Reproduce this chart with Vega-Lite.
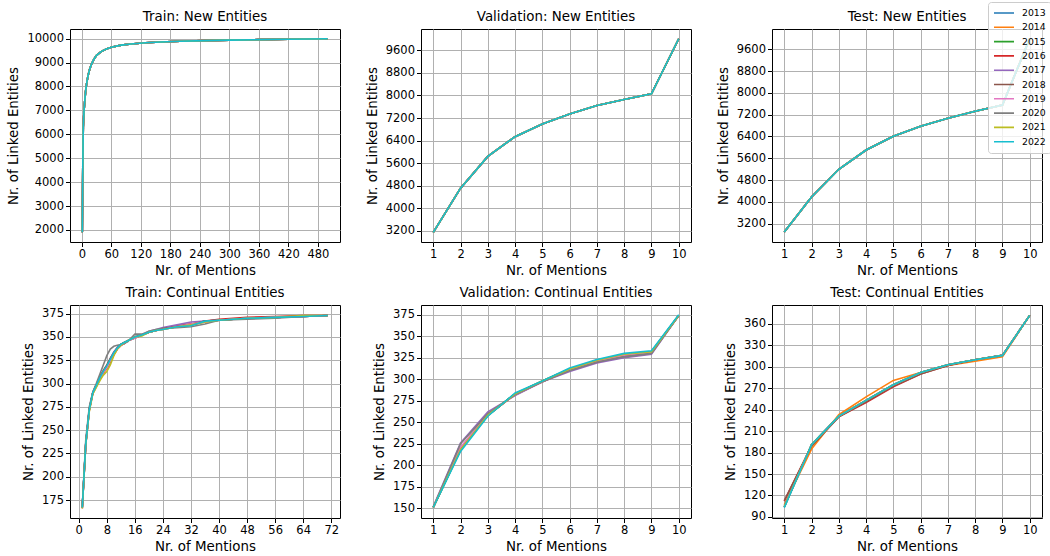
{
  "$schema": "https://vega.github.io/schema/vega-lite/v6.json",
  "padding": {"left": 6, "top": 1, "right": 0, "bottom": 4},
  "bounds": "flush",
  "columns": 3,
  "spacing": {"row": 63, "column": 81},
  "datasets": {
    "tn": [
      {"x":1,"2013":1900,"2014":1900,"2015":1900,"2016":1900,"2017":1900,"2018":1900,"2019":1900,"2020":1900,"2021":1900,"2022":1900},
      {"x":2,"2013":4600,"2014":4600,"2015":4600,"2016":4600,"2017":4600,"2018":4600,"2019":4600,"2020":4600,"2021":4600,"2022":4600},
      {"x":3,"2013":6300,"2014":6300,"2015":6300,"2016":6300,"2017":6300,"2018":6300,"2019":6300,"2020":6300,"2021":6300,"2022":6300},
      {"x":4,"2013":6800,"2014":6800,"2015":6800,"2016":6800,"2017":6800,"2018":6800,"2019":6800,"2020":6800,"2021":6800,"2022":6800},
      {"x":5,"2013":7100,"2014":7100,"2015":7100,"2016":7100,"2017":7100,"2018":7100,"2019":7100,"2020":7100,"2021":7100,"2022":7100},
      {"x":6,"2013":7400,"2014":7400,"2015":7400,"2016":7400,"2017":7400,"2018":7400,"2019":7400,"2020":7400,"2021":7400,"2022":7400},
      {"x":8,"2013":7850,"2014":7850,"2015":7850,"2016":7850,"2017":7850,"2018":7850,"2019":7850,"2020":7850,"2021":7850,"2022":7850},
      {"x":10,"2013":8150,"2014":8150,"2015":8150,"2016":8150,"2017":8150,"2018":8150,"2019":8150,"2020":8150,"2021":8150,"2022":8150},
      {"x":13,"2013":8480,"2014":8480,"2015":8480,"2016":8480,"2017":8480,"2018":8480,"2019":8480,"2020":8480,"2021":8480,"2022":8480},
      {"x":16,"2013":8720,"2014":8720,"2015":8720,"2016":8720,"2017":8720,"2018":8720,"2019":8720,"2020":8720,"2021":8720,"2022":8720},
      {"x":20,"2013":8950,"2014":8950,"2015":8950,"2016":8950,"2017":8950,"2018":8950,"2019":8950,"2020":8950,"2021":8950,"2022":8950},
      {"x":25,"2013":9150,"2014":9150,"2015":9150,"2016":9150,"2017":9150,"2018":9150,"2019":9150,"2020":9150,"2021":9150,"2022":9150},
      {"x":30,"2013":9300,"2014":9300,"2015":9300,"2016":9300,"2017":9300,"2018":9300,"2019":9300,"2020":9300,"2021":9300,"2022":9300},
      {"x":40,"2013":9470,"2014":9470,"2015":9470,"2016":9470,"2017":9470,"2018":9470,"2019":9470,"2020":9470,"2021":9470,"2022":9470},
      {"x":50,"2013":9570,"2014":9570,"2015":9570,"2016":9570,"2017":9570,"2018":9570,"2019":9570,"2020":9570,"2021":9570,"2022":9570},
      {"x":60,"2013":9640,"2014":9640,"2015":9640,"2016":9640,"2017":9640,"2018":9640,"2019":9640,"2020":9640,"2021":9640,"2022":9640},
      {"x":80,"2013":9730,"2014":9730,"2015":9730,"2016":9730,"2017":9730,"2018":9730,"2019":9730,"2020":9730,"2021":9730,"2022":9730},
      {"x":100,"2013":9780,"2014":9780,"2015":9780,"2016":9780,"2017":9780,"2018":9780,"2019":9780,"2020":9780,"2021":9780,"2022":9780},
      {"x":130,"2013":9830,"2014":9830,"2015":9830,"2016":9830,"2017":9830,"2018":9830,"2019":9830,"2020":9830,"2021":9830,"2022":9830},
      {"x":160,"2013":9860,"2014":9860,"2015":9860,"2016":9860,"2017":9860,"2018":9860,"2019":9860,"2020":9860,"2021":9860,"2022":9860},
      {"x":200,"2013":9895,"2014":9895,"2015":9895,"2016":9895,"2017":9895,"2018":9895,"2019":9895,"2020":9895,"2021":9895,"2022":9895},
      {"x":250,"2013":9920,"2014":9920,"2015":9920,"2016":9920,"2017":9920,"2018":9920,"2019":9920,"2020":9920,"2021":9920,"2022":9920},
      {"x":300,"2013":9940,"2014":9940,"2015":9940,"2016":9940,"2017":9940,"2018":9940,"2019":9940,"2020":9940,"2021":9940,"2022":9940},
      {"x":360,"2013":9960,"2014":9960,"2015":9960,"2016":9960,"2017":9960,"2018":9960,"2019":9960,"2020":9960,"2021":9960,"2022":9960},
      {"x":420,"2013":9975,"2014":9975,"2015":9975,"2016":9975,"2017":9975,"2018":9975,"2019":9975,"2020":9975,"2021":9975,"2022":9975},
      {"x":500,"2013":10000,"2014":10000,"2015":10000,"2016":10000,"2017":10000,"2018":10000,"2019":10000,"2020":10000,"2021":10000,"2022":10000}
    ],
    "vn": [
      {"x":1,"2013":3150,"2014":3150,"2015":3150,"2016":3150,"2017":3150,"2018":3150,"2019":3150,"2020":3150,"2021":3150,"2022":3150},
      {"x":2,"2013":4715,"2014":4715,"2015":4715,"2016":4715,"2017":4715,"2018":4715,"2019":4715,"2020":4715,"2021":4715,"2022":4715},
      {"x":3,"2013":5840,"2014":5840,"2015":5840,"2016":5840,"2017":5840,"2018":5840,"2019":5840,"2020":5840,"2021":5840,"2022":5840},
      {"x":4,"2013":6540,"2014":6540,"2015":6540,"2016":6540,"2017":6540,"2018":6540,"2019":6540,"2020":6540,"2021":6540,"2022":6540},
      {"x":5,"2013":6990,"2014":6990,"2015":6990,"2016":6990,"2017":6990,"2018":6990,"2019":6990,"2020":6990,"2021":6990,"2022":6990},
      {"x":6,"2013":7345,"2014":7345,"2015":7345,"2016":7345,"2017":7345,"2018":7345,"2019":7345,"2020":7345,"2021":7345,"2022":7345},
      {"x":7,"2013":7645,"2014":7645,"2015":7645,"2016":7645,"2017":7645,"2018":7645,"2019":7645,"2020":7645,"2021":7645,"2022":7645},
      {"x":8,"2013":7860,"2014":7860,"2015":7860,"2016":7860,"2017":7860,"2018":7860,"2019":7860,"2020":7860,"2021":7860,"2022":7860},
      {"x":9,"2013":8055,"2014":8055,"2015":8055,"2016":8055,"2017":8055,"2018":8055,"2019":8055,"2020":8055,"2021":8055,"2022":8055},
      {"x":10,"2013":10010,"2014":10010,"2015":10010,"2016":10010,"2017":10010,"2018":10010,"2019":10010,"2020":10010,"2021":10010,"2022":10010}
    ],
    "ten": [
      {"x":1,"2013":2895,"2014":2895,"2015":2895,"2016":2895,"2017":2895,"2018":2895,"2019":2895,"2020":2895,"2021":2895,"2022":2895},
      {"x":2,"2013":4180,"2014":4180,"2015":4180,"2016":4180,"2017":4180,"2018":4180,"2019":4180,"2020":4180,"2021":4180,"2022":4180},
      {"x":3,"2013":5196,"2014":5196,"2015":5196,"2016":5196,"2017":5196,"2018":5196,"2019":5196,"2020":5196,"2021":5196,"2022":5196},
      {"x":4,"2013":5905,"2014":5905,"2015":5905,"2016":5905,"2017":5905,"2018":5905,"2019":5905,"2020":5905,"2021":5905,"2022":5905},
      {"x":5,"2013":6407,"2014":6407,"2015":6407,"2016":6407,"2017":6407,"2018":6407,"2019":6407,"2020":6407,"2021":6407,"2022":6407},
      {"x":6,"2013":6774,"2014":6774,"2015":6774,"2016":6774,"2017":6774,"2018":6774,"2019":6774,"2020":6774,"2021":6774,"2022":6774},
      {"x":7,"2013":7068,"2014":7068,"2015":7068,"2016":7068,"2017":7068,"2018":7068,"2019":7068,"2020":7068,"2021":7068,"2022":7068},
      {"x":8,"2013":7324,"2014":7324,"2015":7324,"2016":7324,"2017":7324,"2018":7324,"2019":7324,"2020":7324,"2021":7324,"2022":7324},
      {"x":9,"2013":7556,"2014":7556,"2015":7556,"2016":7556,"2017":7556,"2018":7556,"2019":7556,"2020":7556,"2021":7556,"2022":7556},
      {"x":10,"2013":9990,"2014":9990,"2015":9990,"2016":9990,"2017":9990,"2018":9990,"2019":9990,"2020":9990,"2021":9990,"2022":9990}
    ],
    "tc": [
      {"x":1,"2013":167,"2014":166,"2015":167,"2016":167,"2017":168,"2018":167,"2019":166,"2020":167,"2021":166,"2022":167},
      {"x":2,"2013":236,"2014":234,"2015":235,"2016":235,"2017":236,"2018":236,"2019":235,"2020":240,"2021":235,"2022":235},
      {"x":3,"2013":272,"2014":271,"2015":272,"2016":272,"2017":272,"2018":273,"2019":271,"2020":275,"2021":270,"2022":272},
      {"x":4,"2013":290,"2014":289,"2015":290,"2016":290,"2017":290,"2018":290,"2019":290,"2020":291,"2021":289,"2022":290},
      {"x":5,"2013":298,"2014":297,"2015":298,"2016":298,"2017":297,"2018":299,"2019":297,"2020":300,"2021":296,"2022":298},
      {"x":6,"2013":306,"2014":305,"2015":307,"2016":306,"2017":305,"2018":307,"2019":305,"2020":310,"2021":303,"2022":306},
      {"x":7,"2013":313,"2014":311,"2015":313,"2016":312,"2017":312,"2018":314,"2019":312,"2020":320,"2021":309,"2022":313},
      {"x":8,"2013":319,"2014":316,"2015":319,"2016":317,"2017":318,"2018":320,"2019":317,"2020":330,"2021":313,"2022":319},
      {"x":9,"2013":326,"2014":323,"2015":326,"2016":323,"2017":327,"2018":327,"2019":324,"2020":337,"2021":320,"2022":326},
      {"x":10,"2013":333,"2014":331,"2015":333,"2016":331,"2017":334,"2018":333,"2019":332,"2020":340,"2021":330,"2022":333},
      {"x":11,"2013":338,"2014":337,"2015":338,"2016":337,"2017":339,"2018":338,"2019":337,"2020":341,"2021":337,"2022":338},
      {"x":12,"2013":342,"2014":341,"2015":342,"2016":341,"2017":342,"2018":342,"2019":341,"2020":342,"2021":341,"2022":342},
      {"x":13,"2013":344,"2014":343,"2015":344,"2016":343,"2017":344,"2018":344,"2019":343,"2020":343,"2021":344,"2022":344},
      {"x":14,"2013":346,"2014":346,"2015":346,"2016":346,"2017":346,"2018":346,"2019":346,"2020":345,"2021":346,"2022":346},
      {"x":16,"2013":350,"2014":349,"2015":350,"2016":349,"2017":349,"2018":350,"2019":349,"2020":353,"2021":350,"2022":350},
      {"x":18,"2013":352,"2014":352,"2015":352,"2016":352,"2017":352,"2018":352,"2019":352,"2020":353,"2021":351,"2022":352},
      {"x":20,"2013":355,"2014":355,"2015":355,"2016":355,"2017":356,"2018":355,"2019":355,"2020":356,"2021":355,"2022":355},
      {"x":22,"2013":357,"2014":357,"2015":357,"2016":357,"2017":358,"2018":357,"2019":357,"2020":358,"2021":357,"2022":357},
      {"x":24,"2013":359,"2014":358,"2015":359,"2016":359,"2017":360,"2018":359,"2019":358,"2020":359,"2021":358,"2022":358},
      {"x":28,"2013":361,"2014":361,"2015":361,"2016":362,"2017":363,"2018":361,"2019":361,"2020":360,"2021":361,"2022":361},
      {"x":32,"2013":363,"2014":363,"2015":363,"2016":364,"2017":366,"2018":363,"2019":364,"2020":361,"2021":363,"2022":362},
      {"x":36,"2013":367,"2014":366,"2015":367,"2016":367,"2017":367,"2018":367,"2019":366,"2020":364,"2021":366,"2022":367},
      {"x":40,"2013":368,"2014":368,"2015":368,"2016":369,"2017":368,"2018":368,"2019":368,"2020":368,"2021":368,"2022":368},
      {"x":48,"2013":370,"2014":370,"2015":370,"2016":371,"2017":370,"2018":370,"2019":370,"2020":369,"2021":370,"2022":370},
      {"x":56,"2013":371,"2014":371,"2015":371,"2016":372,"2017":371,"2018":371,"2019":371,"2020":370,"2021":371,"2022":371},
      {"x":64,"2013":372,"2014":372,"2015":372,"2016":373,"2017":372,"2018":372,"2019":372,"2020":372,"2021":373,"2022":372},
      {"x":71,"2013":373,"2014":373,"2015":373,"2016":373,"2017":373,"2018":373,"2019":373,"2020":373,"2021":373,"2022":373}
    ],
    "vc": [
      {"x":1,"2013":151,"2014":151,"2015":151,"2016":151,"2017":152,"2018":151,"2019":151,"2020":151,"2021":151,"2022":151},
      {"x":2,"2013":218,"2014":219,"2015":218,"2016":220,"2017":226,"2018":220,"2019":221,"2020":225,"2021":218,"2022":216},
      {"x":3,"2013":258,"2014":258,"2015":258,"2016":259,"2017":262,"2018":258,"2019":259,"2020":260,"2021":258,"2022":257},
      {"x":4,"2013":283,"2014":283,"2015":283,"2016":282,"2017":281,"2018":283,"2019":282,"2020":282,"2021":283,"2022":284},
      {"x":5,"2013":298,"2014":298,"2015":298,"2016":297,"2017":297,"2018":297,"2019":297,"2020":297,"2021":298,"2022":298},
      {"x":6,"2013":312,"2014":312,"2015":312,"2016":311,"2017":309,"2018":311,"2019":311,"2020":310,"2021":312,"2022":313},
      {"x":7,"2013":322,"2014":322,"2015":322,"2016":321,"2017":319,"2018":320,"2019":321,"2020":320,"2021":322,"2022":323},
      {"x":8,"2013":329,"2014":329,"2015":329,"2016":328,"2017":325,"2018":327,"2019":328,"2020":326,"2021":329,"2022":330},
      {"x":9,"2013":332,"2014":332,"2015":332,"2016":331,"2017":329,"2018":331,"2019":331,"2020":330,"2021":332,"2022":333},
      {"x":10,"2013":374,"2014":374,"2015":374,"2016":374,"2017":374,"2018":374,"2019":374,"2020":374,"2021":374,"2022":375}
    ],
    "tec": [
      {"x":1,"2013":104,"2014":107,"2015":104,"2016":112,"2017":104,"2018":113,"2019":104,"2020":104,"2021":104,"2022":103},
      {"x":2,"2013":191,"2014":185,"2015":191,"2016":190,"2017":191,"2018":189,"2019":191,"2020":191,"2021":191,"2022":191},
      {"x":3,"2013":231,"2014":233,"2015":231,"2016":230,"2017":231,"2018":230,"2019":231,"2020":231,"2021":231,"2022":231},
      {"x":4,"2013":253,"2014":258,"2015":253,"2016":250,"2017":253,"2018":251,"2019":253,"2020":253,"2021":253,"2022":253},
      {"x":5,"2013":275,"2014":281,"2015":275,"2016":272,"2017":275,"2018":273,"2019":275,"2020":275,"2021":275,"2022":275},
      {"x":6,"2013":292,"2014":292,"2015":292,"2016":290,"2017":292,"2018":290,"2019":292,"2020":292,"2021":292,"2022":292},
      {"x":7,"2013":303,"2014":302,"2015":303,"2016":302,"2017":303,"2018":302,"2019":303,"2020":303,"2021":303,"2022":303},
      {"x":8,"2013":310,"2014":308,"2015":310,"2016":310,"2017":310,"2018":310,"2019":310,"2020":310,"2021":310,"2022":310},
      {"x":9,"2013":316,"2014":314,"2015":316,"2016":316,"2017":316,"2018":316,"2019":316,"2020":316,"2021":316,"2022":316},
      {"x":10,"2013":372,"2014":372,"2015":372,"2016":372,"2017":372,"2018":372,"2019":372,"2020":372,"2021":372,"2022":372}
    ]
  },
  "concat": [
    {
      "title": "Train: New Entities",
      "width": 270, "height": 213,
      "data": {"name": "tn"},
      "transform": [{"fold": ["2013","2014","2015","2016","2017","2018","2019","2020","2021","2022"], "as": ["year","value"]}],
      "mark": {"type": "line", "strokeWidth": 1.6},
      "encoding": {
        "x": {"field": "x", "type": "quantitative", "scale": {"domain": [-24, 525], "nice": false, "zero": false}, "axis": {"values": [0,60,120,180,240,300,360,420,480], "title": "Nr. of Mentions"}},
        "y": {"field": "value", "type": "quantitative", "scale": {"domain": [1495, 10405], "nice": false, "zero": false}, "axis": {"values": [2000,3000,4000,5000,6000,7000,8000,9000,10000], "format": "d", "title": "Nr. of Linked Entities"}},
        "color": {"field": "year", "type": "nominal", "scale": {"domain": ["2013","2014","2015","2016","2017","2018","2019","2020","2021","2022"], "range": ["#1f77b4","#ff7f0e","#2ca02c","#d62728","#9467bd","#8c564b","#e377c2","#7f7f7f","#bcbd22","#17becf"]}, "legend": {"title": null, "orient": "none", "legendX": 918, "legendY": -27}}
      }
    },
    {
      "title": "Validation: New Entities",
      "width": 270, "height": 213,
      "data": {"name": "vn"},
      "transform": [{"fold": ["2013","2014","2015","2016","2017","2018","2019","2020","2021","2022"], "as": ["year","value"]}],
      "mark": {"type": "line", "strokeWidth": 1.6},
      "encoding": {
        "x": {"field": "x", "type": "quantitative", "scale": {"domain": [0.55, 10.45], "nice": false, "zero": false}, "axis": {"values": [1,2,3,4,5,6,7,8,9,10], "title": "Nr. of Mentions"}},
        "y": {"field": "value", "type": "quantitative", "scale": {"domain": [2807, 10355], "nice": false, "zero": false}, "axis": {"values": [3200,4000,4800,5600,6400,7200,8000,8800,9600], "format": "d", "title": "Nr. of Linked Entities"}},
        "color": {"field": "year", "type": "nominal", "scale": {"domain": ["2013","2014","2015","2016","2017","2018","2019","2020","2021","2022"], "range": ["#1f77b4","#ff7f0e","#2ca02c","#d62728","#9467bd","#8c564b","#e377c2","#7f7f7f","#bcbd22","#17becf"]}, "legend": {"title": null, "orient": "none", "legendX": 918, "legendY": -27}}
      }
    },
    {
      "title": "Test: New Entities",
      "width": 270, "height": 213,
      "data": {"name": "ten"},
      "transform": [{"fold": ["2013","2014","2015","2016","2017","2018","2019","2020","2021","2022"], "as": ["year","value"]}],
      "mark": {"type": "line", "strokeWidth": 1.6},
      "encoding": {
        "x": {"field": "x", "type": "quantitative", "scale": {"domain": [0.55, 10.45], "nice": false, "zero": false}, "axis": {"values": [1,2,3,4,5,6,7,8,9,10], "title": "Nr. of Mentions"}},
        "y": {"field": "value", "type": "quantitative", "scale": {"domain": [2528, 10345], "nice": false, "zero": false}, "axis": {"values": [3200,4000,4800,5600,6400,7200,8000,8800,9600], "format": "d", "title": "Nr. of Linked Entities"}},
        "color": {"field": "year", "type": "nominal", "scale": {"domain": ["2013","2014","2015","2016","2017","2018","2019","2020","2021","2022"], "range": ["#1f77b4","#ff7f0e","#2ca02c","#d62728","#9467bd","#8c564b","#e377c2","#7f7f7f","#bcbd22","#17becf"]}, "legend": {"title": null, "orient": "none", "legendX": 918, "legendY": -27}}
      }
    },
    {
      "title": "Train: Continual Entities",
      "width": 270, "height": 213,
      "data": {"name": "tc"},
      "transform": [{"fold": ["2013","2014","2015","2016","2017","2018","2019","2020","2021","2022"], "as": ["year","value"]}],
      "mark": {"type": "line", "strokeWidth": 1.6},
      "encoding": {
        "x": {"field": "x", "type": "quantitative", "scale": {"domain": [-2.5, 74.5], "nice": false, "zero": false}, "axis": {"values": [0,8,16,24,32,40,48,56,64,72], "title": "Nr. of Mentions"}},
        "y": {"field": "value", "type": "quantitative", "scale": {"domain": [155.7, 384.3], "nice": false, "zero": false}, "axis": {"values": [175,200,225,250,275,300,325,350,375], "format": "d", "title": "Nr. of Linked Entities"}},
        "color": {"field": "year", "type": "nominal", "scale": {"domain": ["2013","2014","2015","2016","2017","2018","2019","2020","2021","2022"], "range": ["#1f77b4","#ff7f0e","#2ca02c","#d62728","#9467bd","#8c564b","#e377c2","#7f7f7f","#bcbd22","#17becf"]}, "legend": {"title": null, "orient": "none", "legendX": 918, "legendY": -27}}
      }
    },
    {
      "title": "Validation: Continual Entities",
      "width": 270, "height": 213,
      "data": {"name": "vc"},
      "transform": [{"fold": ["2013","2014","2015","2016","2017","2018","2019","2020","2021","2022"], "as": ["year","value"]}],
      "mark": {"type": "line", "strokeWidth": 1.6},
      "encoding": {
        "x": {"field": "x", "type": "quantitative", "scale": {"domain": [0.55, 10.45], "nice": false, "zero": false}, "axis": {"values": [1,2,3,4,5,6,7,8,9,10], "title": "Nr. of Mentions"}},
        "y": {"field": "value", "type": "quantitative", "scale": {"domain": [138.75, 386.25], "nice": false, "zero": false}, "axis": {"values": [150,175,200,225,250,275,300,325,350,375], "format": "d", "title": "Nr. of Linked Entities"}},
        "color": {"field": "year", "type": "nominal", "scale": {"domain": ["2013","2014","2015","2016","2017","2018","2019","2020","2021","2022"], "range": ["#1f77b4","#ff7f0e","#2ca02c","#d62728","#9467bd","#8c564b","#e377c2","#7f7f7f","#bcbd22","#17becf"]}, "legend": {"title": null, "orient": "none", "legendX": 918, "legendY": -27}}
      }
    },
    {
      "title": "Test: Continual Entities",
      "width": 270, "height": 213,
      "data": {"name": "tec"},
      "transform": [{"fold": ["2013","2014","2015","2016","2017","2018","2019","2020","2021","2022"], "as": ["year","value"]}],
      "mark": {"type": "line", "strokeWidth": 1.6},
      "encoding": {
        "x": {"field": "x", "type": "quantitative", "scale": {"domain": [0.55, 10.45], "nice": false, "zero": false}, "axis": {"values": [1,2,3,4,5,6,7,8,9,10], "title": "Nr. of Mentions"}},
        "y": {"field": "value", "type": "quantitative", "scale": {"domain": [88.5, 386.5], "nice": false, "zero": false}, "axis": {"values": [90,120,150,180,210,240,270,300,330,360], "format": "d", "title": "Nr. of Linked Entities"}},
        "color": {"field": "year", "type": "nominal", "scale": {"domain": ["2013","2014","2015","2016","2017","2018","2019","2020","2021","2022"], "range": ["#1f77b4","#ff7f0e","#2ca02c","#d62728","#9467bd","#8c564b","#e377c2","#7f7f7f","#bcbd22","#17becf"]}, "legend": {"title": null, "orient": "none", "legendX": 918, "legendY": -27}}
      }
    }
  ],
  "resolve": {"scale": {"color": "shared"}},
  "config": {
    "font": "DejaVu Sans",
    "background": "white",
    "view": {"stroke": "black", "strokeWidth": 1},
    "title": {"font": "DejaVu Sans", "fontSize": 13.4, "fontWeight": "normal", "color": "black", "offset": 6},
    "axis": {
      "domain": false, "grid": true, "gridColor": "#b0b0b0", "gridWidth": 1,
      "tickColor": "black", "tickSize": 4.5, "tickWidth": 1,
      "labelFont": "DejaVu Sans", "labelFontSize": 11.5, "labelColor": "black", "labelPadding": 2, "labelFlush": false, "labelOverlap": false,
      "titleFont": "DejaVu Sans", "titleFontSize": 13.4, "titleFontWeight": "normal", "titleColor": "black"
    },
    "axisX": {"titlePadding": 3, "labelAngle": 0},
    "axisY": {"titlePadding": 6},
    "legend": {
      "labelFont": "DejaVu Sans", "labelFontSize": 9.3, "labelColor": "black",
      "symbolType": "stroke", "symbolSize": 400, "symbolStrokeWidth": 1.6,
      "fillColor": "rgba(255,255,255,0.8)", "strokeColor": "#cccccc", "cornerRadius": 3,
      "padding": 5, "rowPadding": 2.3, "labelOffset": 7, "clipHeight": 12
    }
  }
}
